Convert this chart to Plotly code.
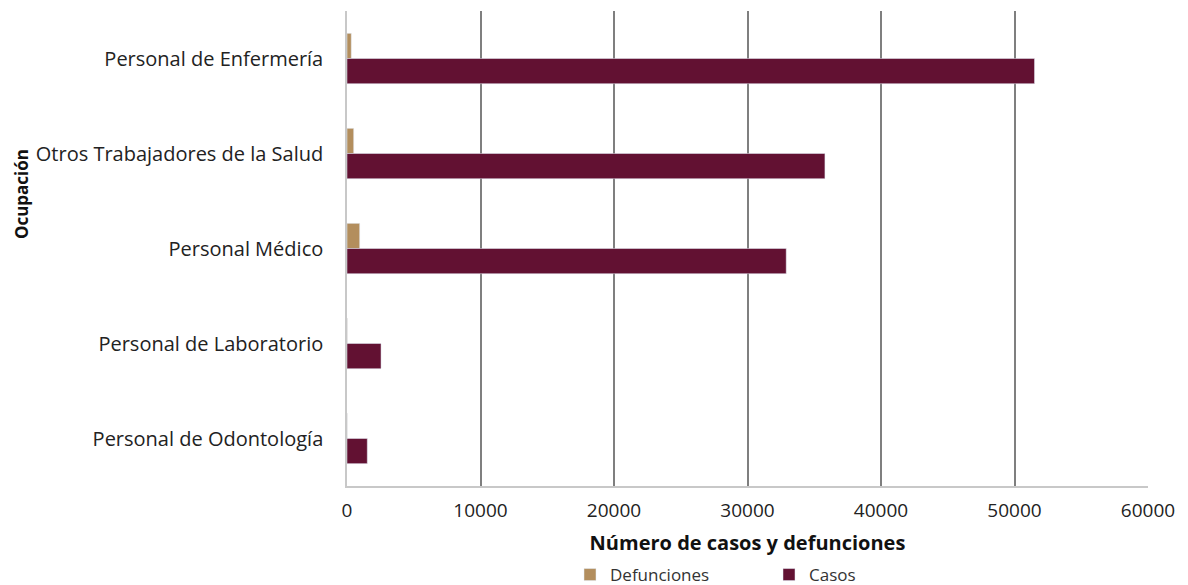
import plotly.graph_objects as go

categories = ["Personal de Enfermería", "Otros Trabajadores de la Salud", "Personal Médico",
              "Personal de Laboratorio", "Personal de Odontología"]
defunciones = [320, 500, 950, 20, 15]
casos = [51500, 35800, 32900, 2550, 1520]
x_ticks = [0, 10000, 20000, 30000, 40000, 50000, 60000]

FONT = "Open Sans"

fig = go.Figure()
fig.add_trace(go.Bar(y=categories, x=defunciones, orientation="h", name="Defunciones",
                     marker=dict(color="#B38E5D")))
fig.add_trace(go.Bar(y=categories, x=casos, orientation="h", name="Casos",
                     marker=dict(color="#621132")))

fig.update_layout(
    width=1188, height=585,
    paper_bgcolor="white", plot_bgcolor="white",
    margin=dict(l=339, r=48, t=2.5, b=106.5, autoexpand=False),
    barmode="group", bargap=0.47, bargroupgap=0,
    font=dict(family=FONT, size=18, color="#222222"),
    showlegend=True,
    legend=dict(orientation="h", xref="container", yref="container",
                x=562 / 1188, xanchor="left", y=18 / 585, yanchor="middle",
                entrywidth=154, entrywidthmode="pixels",
                font=dict(size=17, color="#333333")),
)
fig.update_xaxes(
    range=[0, 60000], tickvals=x_ticks, ticktext=[str(v) for v in x_ticks],
    showgrid=True, gridcolor="#7f7f7f", gridwidth=1.5,
    zeroline=False, showline=True, linecolor="#c8c8c8", linewidth=1.5,
    ticks="outside", ticklen=6, tickcolor="rgba(0,0,0,0)",
    tickfont=dict(size=19, color="#222222"), automargin=False,
    title=dict(text="<b>Número de casos y defunciones</b>", font=dict(size=20, color="#111111"),
               standoff=14),
)
fig.update_yaxes(
    autorange="reversed", showgrid=False, zeroline=False,
    showline=True, linecolor="#c8c8c8", linewidth=1.5,
    ticks="outside", ticklen=18, tickcolor="rgba(0,0,0,0)",
    tickfont=dict(size=20, color="#222222"), automargin=False,
)
fig.add_annotation(text="<b>Ocupación</b>", xref="paper", yref="paper", x=-0.407, y=0.6145,
                   xanchor="center", yanchor="middle", textangle=-90, showarrow=False,
                   font=dict(size=17, color="#111111", family=FONT))

fig.write_html("out.html")
